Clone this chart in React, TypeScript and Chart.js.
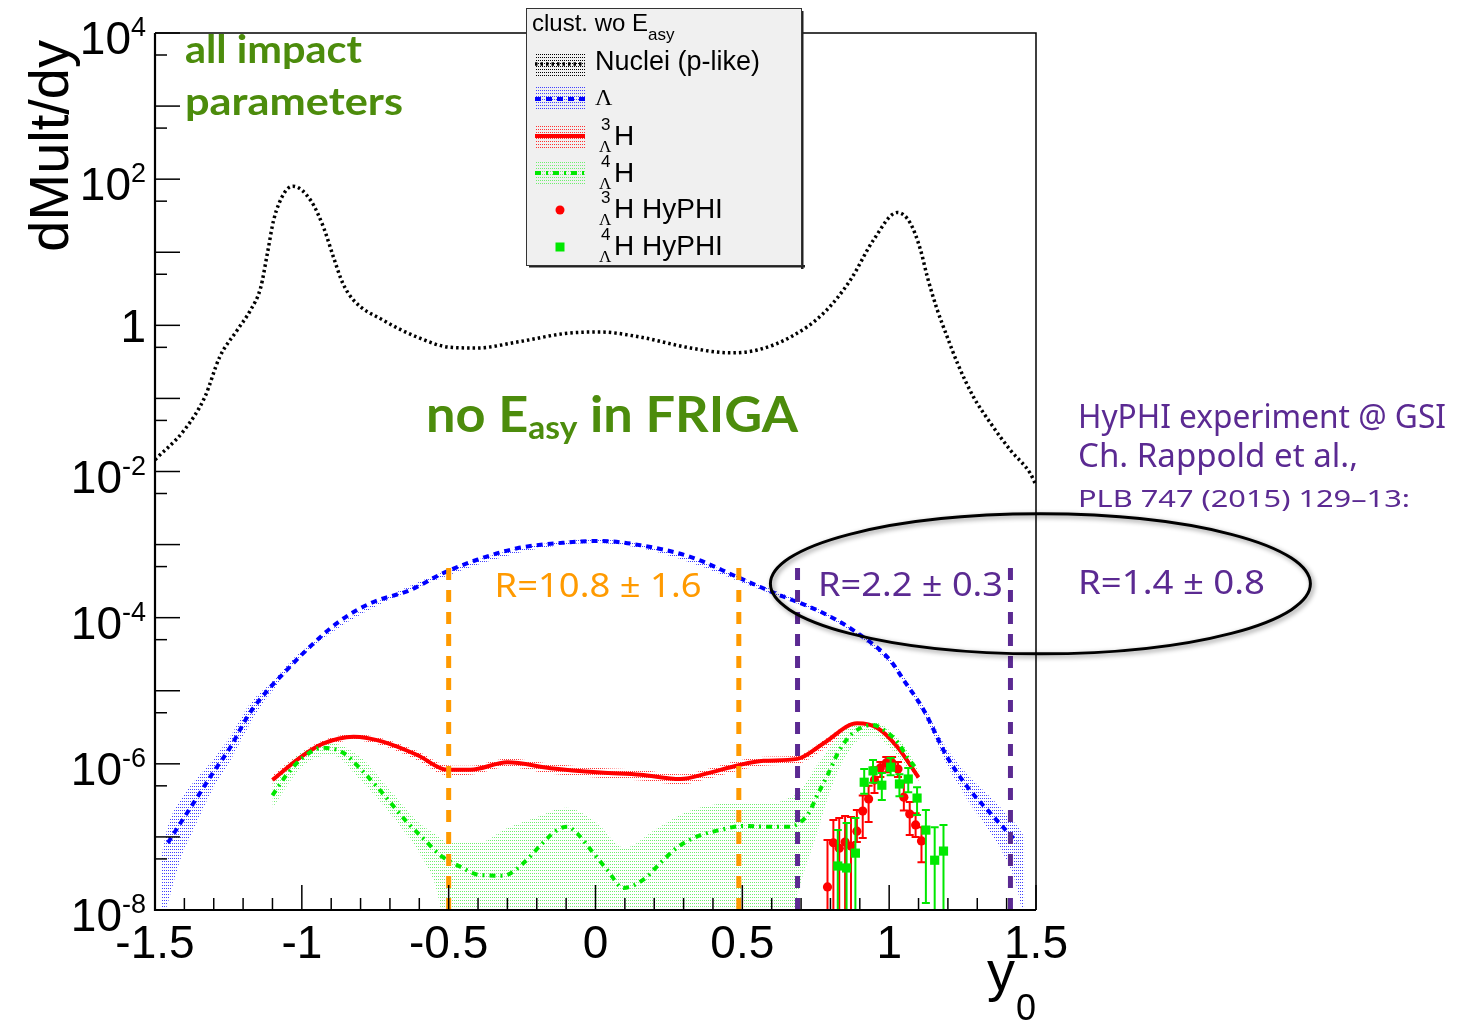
import React, { useEffect, useRef } from 'react';
import { Chart, registerables } from 'chart.js';

Chart.register(...registerables);

const W = 1458;
const H = 1023;

const RED = '#ff0000';
const GREEN = '#00e800';
const BLUE = '#0000ff';
const ORANGE = '#ff9a00';
const PURPLE = '#5b2a92';
const OLIVE = '#4c8c0c';

// ---- FRIGA, clusters without E_asy: dMult/dy versus y0 ----
const nucleiY0 = [-1.5, -1.4, -1.33, -1.28, -1.22, -1.175, -1.14, -1.117, -1.096, -1.06, -1.03, -0.97, -0.926, -0.892, -0.861, -0.824, -0.722, -0.607, -0.494, -0.403, -0.267, -0.096, 0.017, 0.153, 0.323, 0.46, 0.551, 0.664, 0.777, 0.868, 0.947, 1.028, 1.072, 1.107, 1.13, 1.164, 1.198, 1.233, 1.287, 1.345, 1.413, 1.48, 1.5];
const nucleiMult = [0.0145, 0.037, 0.105, 0.367, 0.86, 1.61, 3.3, 9.8, 27.5, 64.6, 80, 51.3, 21.9, 8.5, 3.8, 2.21, 1.17, 0.69, 0.5, 0.49, 0.59, 0.78, 0.81, 0.69, 0.49, 0.42, 0.46, 0.69, 1.47, 4.17, 14.8, 35, 25, 10.7, 4.6, 1.62, 0.69, 0.3, 0.105, 0.046, 0.0195, 0.0095, 0.0065];

const lambdaY0 = [-1.456, -1.413, -1.369, -1.304, -1.243, -1.181, -1.107, -1.083, -0.994, -0.879, -0.766, -0.63, -0.517, -0.403, -0.267, -0.096, 0.017, 0.153, 0.323, 0.483, 0.606, 0.777, 0.891, 1.004, 1.049, 1.117, 1.198, 1.267, 1.345, 1.403, 1.436];
const lambdaMult = [8.3e-8, 1.55e-7, 2.9e-7, 7.4e-7, 1.7e-6, 4.7e-6, 1.12e-5, 1.41e-5, 3.3e-5, 8.5e-5, 1.58e-4, 2.4e-4, 4.1e-4, 6.2e-4, 8.9e-4, 1.07e-3, 1.12e-3, 9.8e-4, 6.8e-4, 3.6e-4, 2.2e-4, 1.15e-4, 6.2e-5, 2.6e-5, 1.41e-5, 5.5e-6, 1.23e-6, 4.8e-7, 2.1e-7, 1.17e-7, 8.5e-8];
const lambdaBandY0 = [-1.48, -1.456, -1.413, -1.369, -1.304, -1.243, -1.181, -1.1, -1.0, -0.5, 0, 0.5, 1.0, 1.117, 1.198, 1.267, 1.345, 1.403, 1.436, 1.46];
const lambdaBandHi = [5.0e-8, 1.41e-7, 3.2e-7, 5.6e-7, 1.12e-6, 2.4e-6, 6.3e-6, 1.35e-5, 3.5e-5, 4.5e-4, 1.17e-3, 3.5e-4, 2.8e-5, 6.3e-6, 1.58e-6, 7.1e-7, 3.5e-7, 2.0e-7, 1.41e-7, 1.0e-7];
const lambdaBandLo = [6.3e-9, 1.26e-8, 5.0e-8, 1.26e-7, 4.5e-7, 1.12e-6, 3.3e-6, 1.0e-5, 3.0e-5, 3.8e-4, 1.05e-3, 3.0e-4, 2.4e-5, 4.7e-6, 9.5e-7, 3.2e-7, 1.12e-7, 4.5e-8, 2.0e-8, 6.3e-9];

const h3lY0 = [-1.1, -1.005, -0.926, -0.824, -0.722, -0.607, -0.505, -0.426, -0.3, -0.153, 0.017, 0.153, 0.289, 0.381, 0.483, 0.572, 0.688, 0.776, 0.891, 0.96, 1.028, 1.1];
const h3lMult = [6.0e-7, 1.23e-6, 1.9e-6, 2.35e-6, 2.0e-6, 1.32e-6, 8.3e-7, 8.3e-7, 1.05e-6, 8.7e-7, 7.6e-7, 7.1e-7, 6.2e-7, 7.4e-7, 9.5e-7, 1.1e-6, 1.17e-6, 1.9e-6, 3.6e-6, 3.1e-6, 1.7e-6, 6.5e-7];
const h3lBandHi = [7.0e-7, 1.4e-6, 2.1e-6, 2.55e-6, 2.2e-6, 1.5e-6, 9.6e-7, 9.4e-7, 1.18e-6, 1.0e-6, 8.8e-7, 8.3e-7, 7.2e-7, 8.5e-7, 1.1e-6, 1.25e-6, 1.3e-6, 2.1e-6, 3.8e-6, 3.3e-6, 1.9e-6, 7.4e-7];
const h3lBandLo = [5.0e-7, 1.05e-6, 1.65e-6, 2.1e-6, 1.75e-6, 1.12e-6, 7.0e-7, 7.1e-7, 9.0e-7, 7.3e-7, 6.4e-7, 5.9e-7, 5.2e-7, 6.2e-7, 8.0e-7, 9.4e-7, 1.0e-6, 1.55e-6, 3.1e-6, 2.7e-6, 1.45e-6, 5.6e-7];

const h4lY0 = [-1.1, -1.055, -0.998, -0.93, -0.858, -0.8, -0.743, -0.692, -0.641, -0.586, -0.528, -0.46, -0.392, -0.313, -0.245, -0.194, -0.136, -0.096, -0.061, -0.01, 0.041, 0.095, 0.163, 0.221, 0.279, 0.347, 0.419, 0.504, 0.579, 0.657, 0.722, 0.759, 0.793, 0.827, 0.875, 0.943, 0.998, 1.032, 1.062, 1.096];
const h4lMult = [3.7e-7, 6.8e-7, 1.2e-6, 1.66e-6, 1.41e-6, 8.5e-7, 4.8e-7, 2.75e-7, 1.58e-7, 9.5e-8, 5.6e-8, 3.9e-8, 3.0e-8, 2.95e-8, 4.4e-8, 7.2e-8, 1.2e-7, 1.38e-7, 1.1e-7, 6.2e-8, 3.5e-8, 2.0e-8, 2.6e-8, 4.4e-8, 7.2e-8, 1.02e-7, 1.23e-7, 1.41e-7, 1.38e-7, 1.38e-7, 2.0e-7, 4.0e-7, 7.4e-7, 1.45e-6, 2.6e-6, 3.4e-6, 2.6e-6, 1.9e-6, 1.23e-6, 8.3e-7];
const h4lBandY0 = [-1.1, -1.0, -0.9, -0.8, -0.7, -0.6, -0.55, -0.5, -0.4, -0.3, -0.2, -0.1, 0, 0.1, 0.2, 0.3, 0.4, 0.5, 0.6, 0.65, 0.7, 0.75, 0.8, 0.85, 0.9, 0.95, 1.0, 1.05, 1.1];
const h4lBandHi = [6.0e-7, 1.45e-6, 1.9e-6, 1.23e-6, 4.4e-7, 1.55e-7, 1.12e-7, 8.3e-8, 8.3e-8, 1.32e-7, 1.86e-7, 2.5e-7, 1.6e-7, 7.1e-8, 1.23e-7, 2.1e-7, 2.75e-7, 2.9e-7, 2.9e-7, 3.3e-7, 4.4e-7, 9.1e-7, 1.7e-6, 2.9e-6, 3.7e-6, 3.7e-6, 2.9e-6, 1.8e-6, 8.3e-7];
const h4lBandLo = [2.5e-7, 9.1e-7, 1.32e-6, 6.0e-7, 2.1e-7, 6.0e-8, 2.5e-8, 5e-9, 5e-9, 5e-9, 5e-9, 5e-9, 5e-9, 5e-9, 5e-9, 5e-9, 5e-9, 5e-9, 5e-9, 5e-9, 2.5e-8, 1.0e-7, 4.4e-7, 1.23e-6, 2.2e-6, 2.45e-6, 1.7e-6, 1.02e-6, 6.5e-7];

// ---- HyPHI measurements (points with asymmetric error bars) ----
const hyphi3Y0 = [0.79, 0.81, 0.83, 0.85, 0.87, 0.89, 0.91, 0.93, 0.95, 0.97, 0.99, 1.01, 1.03, 1.05, 1.07, 1.09, 1.11];
const hyphi3Mult = [2.07e-8, 8.3e-8, 7.0e-8, 8.5e-8, 7.5e-8, 1.2e-7, 2.26e-7, 3.3e-7, 6.0e-7, 8.8e-7, 1.03e-6, 1.03e-6, 8.5e-7, 3.5e-7, 2.06e-7, 1.46e-7, 8.8e-8];
const hyphi3Hi = [9.1e-8, 1.7e-7, 1.82e-7, 1.93e-7, 1.87e-7, 2.33e-7, 3.7e-7, 5.0e-7, 9.0e-7, 1.06e-6, 1.24e-6, 1.24e-6, 1.06e-6, 5.6e-7, 3.0e-7, 2.1e-7, 1.36e-7];
const hyphi3Lo = [1e-9, 1e-9, 1e-9, 1e-9, 1e-9, 8.5e-8, 9.7e-8, 1.6e-7, 4.0e-7, 6.6e-7, 7.7e-7, 8.2e-7, 6.6e-7, 2.3e-7, 1.06e-7, 1.0e-7, 4.5e-8];

const hyphi4Y0 = [0.825, 0.855, 0.885, 0.915, 0.945, 0.975, 1.005, 1.035, 1.065, 1.095, 1.125, 1.155, 1.185];
const hyphi4Mult = [4.0e-8, 3.76e-8, 6.0e-8, 5.6e-7, 8.0e-7, 5.1e-7, 9.0e-7, 5.3e-7, 6.2e-7, 3.4e-7, 1.24e-7, 4.8e-8, 6.4e-8];
const hyphi4Hi = [1.24e-7, 1.55e-7, 1.82e-7, 8.5e-7, 1.13e-6, 7.5e-7, 1.2e-6, 7.2e-7, 8.8e-7, 4.8e-7, 2.33e-7, 1.36e-7, 1.46e-7];
const hyphi4Lo = [1e-9, 1e-9, 1e-9, 3.9e-7, 5.5e-7, 3.2e-7, 7.0e-7, 3.6e-7, 4.1e-7, 2.0e-7, 1.25e-8, 1e-9, 1e-9];

// ---- axes ----
const xTickLabels = ['-1.5', '-1', '-0.5', '0', '0.5', '1', '1.5'];
const xTickValues = [-1.5, -1, -0.5, 0, 0.5, 1, 1.5];
const yLabelExponents = [4, 2, 0, -2, -4, -6, -8];

// ---- rapidity windows for the yield ratios ----
const windowLines = [
  { y0: -0.5, color: ORANGE },
  { y0: 0.488, color: ORANGE },
  { y0: 0.688, color: PURPLE },
  { y0: 1.413, color: PURPLE },
];
const windowTop = 4.8e-4;

const errorBars: Record<string, { x: number[]; lo: number[]; hi: number[]; color: string }> = {
  hyphi3: { x: hyphi3Y0, lo: hyphi3Lo, hi: hyphi3Hi, color: RED },
  hyphi4: { x: hyphi4Y0, lo: hyphi4Lo, hi: hyphi4Hi, color: GREEN },
};

const xy = (xs: number[], ys: number[]) => xs.map((x, i) => ({ x, y: ys[i] }));

function dotPattern(ctx: CanvasRenderingContext2D, color: string) {
  const c = document.createElement('canvas');
  c.width = 2;
  c.height = 3;
  const g = c.getContext('2d')!;
  g.fillStyle = color;
  g.fillRect(0, 0, 1, 1);
  return ctx.createPattern(c, 'repeat')!;
}

type Run = { text: string; font: string; dy?: number };

// draws a row of text runs, stretched horizontally to a given width
function drawRuns(ctx: CanvasRenderingContext2D, runs: Run[], x: number, y: number, width: number | null, color: string, align: 'left' | 'center' = 'left') {
  ctx.save();
  ctx.fillStyle = color;
  ctx.textAlign = 'left';
  ctx.textBaseline = 'alphabetic';
  const widths = runs.map((r) => {
    ctx.font = r.font;
    return ctx.measureText(r.text).width;
  });
  const total = widths.reduce((a, b) => a + b, 0);
  const s = width ? width / total : 1;
  const startX = align === 'center' ? x - (total * s) / 2 : x;
  ctx.translate(startX, y);
  ctx.scale(s, 1);
  let cx = 0;
  runs.forEach((r, i) => {
    ctx.font = r.font;
    ctx.fillText(r.text, cx, r.dy || 0);
    cx += widths[i];
  });
  ctx.restore();
}

const SANS = '"Liberation Sans", Arial, sans-serif';
const SERIF = '"Liberation Serif", "Times New Roman", serif';
const NOTO = '"Noto Sans", "Open Sans", sans-serif';
const HAND = 'Lato, "Noto Sans", sans-serif';

export default function App() {
  const ref = useRef<HTMLCanvasElement>(null);

  useEffect(() => {
    const canvas = ref.current!;
    const ctx0 = canvas.getContext('2d')!;
    const blueDots = dotPattern(ctx0, '#4040ff');
    const redDots = dotPattern(ctx0, '#ff3030');
    const greenDots = dotPattern(ctx0, '#70ee70');
    const greyDots = dotPattern(ctx0, '#000000');

    const curve = { pointRadius: 0, cubicInterpolationMode: 'monotone' as const, fill: false };
    const band = { pointRadius: 0, cubicInterpolationMode: 'monotone' as const, borderColor: 'rgba(0,0,0,0)', borderWidth: 1 };

    const rootStyle = {
      id: 'rootStyle',
      beforeDraw(chart: any) {
        const c = chart.ctx;
        c.save();
        c.fillStyle = '#ffffff';
        c.fillRect(0, 0, chart.width, chart.height);
        c.restore();
      },
      beforeDatasetDraw(chart: any, args: any) {
        const ds = chart.data.datasets[args.index];
        const eb = errorBars[ds.label];
        if (!eb) return;
        const { ctx, chartArea: a } = chart;
        const xs = chart.scales.x;
        const ys = chart.scales.y;
        ctx.save();
        ctx.beginPath();
        ctx.rect(a.left, a.top, a.right - a.left, a.bottom - a.top);
        ctx.clip();
        ctx.strokeStyle = eb.color;
        ctx.lineWidth = 2;
        ctx.setLineDash([]);
        eb.x.forEach((xv, i) => {
          const px = xs.getPixelForValue(xv);
          const pHi = ys.getPixelForValue(eb.hi[i]);
          const pLo = ys.getPixelForValue(eb.lo[i]);
          ctx.beginPath();
          ctx.moveTo(px, pLo);
          ctx.lineTo(px, pHi);
          ctx.moveTo(px - 4, pHi);
          ctx.lineTo(px + 4, pHi);
          if (pLo < a.bottom) {
            ctx.moveTo(px - 4, pLo);
            ctx.lineTo(px + 4, pLo);
          }
          ctx.stroke();
        });
        ctx.restore();
      },
      afterDraw(chart: any) {
        const { ctx, chartArea: a } = chart;
        const xs = chart.scales.x;
        const ys = chart.scales.y;
        ctx.save();

        // rapidity windows
        ctx.lineWidth = 5;
        ctx.lineCap = 'butt';
        ctx.setLineDash([12, 10]);
        windowLines.forEach((w) => {
          const px = xs.getPixelForValue(w.y0);
          ctx.strokeStyle = w.color;
          ctx.beginPath();
          ctx.moveTo(px, ys.getPixelForValue(windowTop));
          ctx.lineTo(px, a.bottom + 2);
          ctx.stroke();
        });
        ctx.setLineDash([]);

        // frame
        ctx.strokeStyle = '#000';
        ctx.lineWidth = 1.5;
        ctx.beginPath();
        ctx.moveTo(a.left, a.top);
        ctx.lineTo(a.right, a.top);
        ctx.lineTo(a.right, a.bottom);
        ctx.stroke();
        ctx.lineWidth = 2.2;
        ctx.beginPath();
        ctx.moveTo(a.left, a.top);
        ctx.lineTo(a.left, a.bottom);
        ctx.lineTo(a.right, a.bottom);
        ctx.stroke();

        // x ticks
        ctx.lineWidth = 1.5;
        for (let k = -15; k <= 15; k++) {
          const px = xs.getPixelForValue(k / 10);
          const len = k % 5 === 0 ? 25 : 12;
          ctx.beginPath();
          ctx.moveTo(px, a.bottom);
          ctx.lineTo(px, a.bottom - len);
          ctx.stroke();
        }
        // y ticks
        for (let e = -8; e <= 4; e++) {
          const py = ys.getPixelForValue(Math.pow(10, e));
          ctx.beginPath();
          ctx.moveTo(a.left, py);
          ctx.lineTo(a.left + 25, py);
          ctx.stroke();
          if (e < 4) {
            const pm = ys.getPixelForValue(5 * Math.pow(10, e));
            ctx.beginPath();
            ctx.moveTo(a.left, pm);
            ctx.lineTo(a.left + 12, pm);
            ctx.stroke();
          }
        }

        // x tick labels
        ctx.fillStyle = '#000';
        ctx.textAlign = 'center';
        ctx.textBaseline = 'alphabetic';
        ctx.font = `46px ${SANS}`;
        xTickValues.forEach((v, i) => {
          ctx.fillText(xTickLabels[i], xs.getPixelForValue(v), 958);
        });

        // y tick labels
        yLabelExponents.forEach((e) => {
          const py = ys.getPixelForValue(Math.pow(10, e));
          ctx.textAlign = 'right';
          if (e === 0) {
            ctx.font = `46px ${SANS}`;
            ctx.fillText('1', 146, py + 17);
            return;
          }
          ctx.font = `27px ${SANS}`;
          const sup = String(e);
          const sw = ctx.measureText(sup).width;
          ctx.fillText(sup, 146, py + 3);
          ctx.font = `46px ${SANS}`;
          ctx.fillText('10', 146 - sw, py + 21);
        });

        // axis titles
        ctx.save();
        ctx.translate(68, 40);
        ctx.rotate(-Math.PI / 2);
        ctx.textAlign = 'right';
        ctx.font = `56px ${SANS}`;
        ctx.fillText('dMult/dy', 0, 0);
        ctx.restore();
        ctx.textAlign = 'left';
        ctx.font = `56px ${SANS}`;
        ctx.fillText('y', 987, 990);
        ctx.font = `36px ${SANS}`;
        ctx.fillText('0', 1016, 1020);

        // ellipse around the HyPHI window
        ctx.save();
        const ecx = xs.getPixelForValue(1.515);
        const ecy = ys.getPixelForValue(2.9e-4);
        ctx.shadowColor = 'rgba(0,0,0,0.45)';
        ctx.shadowBlur = 5;
        ctx.shadowOffsetX = 2;
        ctx.shadowOffsetY = 2;
        ctx.strokeStyle = '#000';
        ctx.lineWidth = 3;
        ctx.beginPath();
        ctx.ellipse(ecx, ecy, 270, 70, 0, 0, Math.PI * 2);
        ctx.stroke();
        ctx.restore();

        // ratio annotations
        drawRuns(ctx, [{ text: 'R=10.8 ± 1.6', font: `33px ${NOTO}` }], 598, 597, 207, ORANGE, 'center');
        drawRuns(ctx, [{ text: 'R=2.2 ± 0.3', font: `33px ${NOTO}` }], 818, 596, 185, PURPLE);
        drawRuns(ctx, [{ text: 'HyPHI experiment @ GSI', font: `33px ${NOTO}` }], 1078, 428, 368, PURPLE);
        drawRuns(ctx, [{ text: 'Ch. Rappold et al.,', font: `33px ${NOTO}` }], 1078, 467, 280, PURPLE);
        drawRuns(ctx, [{ text: 'PLB 747 (2015) 129–13:', font: `24px ${NOTO}` }], 1078, 507, 332, PURPLE);
        drawRuns(ctx, [{ text: 'R=1.4 ± 0.8', font: `33px ${NOTO}` }], 1078, 594, 187, PURPLE);

        // model labels
        drawRuns(ctx, [{ text: 'all impact', font: `bold 39px ${HAND}` }], 185, 63, 177, OLIVE);
        drawRuns(ctx, [{ text: 'parameters', font: `bold 39px ${HAND}` }], 185, 115, 218, OLIVE);
        drawRuns(
          ctx,
          [
            { text: 'no ', font: `bold 50px ${HAND}` },
            { text: 'E', font: `bold 50px ${HAND}` },
            { text: 'asy', font: `bold 32px ${HAND}`, dy: 7 },
            { text: ' in FRIGA', font: `bold 50px ${HAND}` },
          ],
          426,
          432,
          372,
          OLIVE,
        );

        // legend box
        const L = { x: 526, y: 8, w: 276, h: 258 };
        ctx.fillStyle = '#222';
        ctx.fillRect(L.x + 3, L.y + L.h - 1, L.w, 2.5);
        ctx.fillRect(L.x + L.w - 1, L.y + 3, 2.5, L.h);
        ctx.fillStyle = '#f0f0f0';
        ctx.fillRect(L.x, L.y, L.w, L.h);
        ctx.strokeStyle = '#333';
        ctx.lineWidth = 1;
        ctx.strokeRect(L.x + 0.5, L.y + 0.5, L.w - 1, L.h - 1);

        ctx.fillStyle = '#000';
        ctx.textAlign = 'left';
        ctx.font = `24px ${SANS}`;
        ctx.fillText('clust. wo E', 532, 31);
        const tw = ctx.measureText('clust. wo E').width;
        ctx.font = `17px ${SANS}`;
        ctx.fillText('asy', 532 + tw, 40);

        const LX0 = 535;
        const LX1 = 585;
        const sample = (y: number, pat: CanvasPattern, color: string, width: number, dash: number[]) => {
          ctx.fillStyle = pat;
          ctx.fillRect(LX0, y - 12, LX1 - LX0, 24);
          ctx.strokeStyle = color;
          ctx.lineWidth = width;
          ctx.setLineDash(dash);
          ctx.beginPath();
          ctx.moveTo(LX0, y);
          ctx.lineTo(LX1, y);
          ctx.stroke();
          ctx.setLineDash([]);
        };
        sample(64, greyDots, '#000', 3.5, [2.5, 3]);
        sample(99, blueDots, BLUE, 4, [6, 5]);
        sample(136, redDots, RED, 4, []);
        sample(173, greenDots, GREEN, 4, [6, 5, 2, 5]);

        ctx.fillStyle = RED;
        ctx.beginPath();
        ctx.arc(560, 210, 4.5, 0, Math.PI * 2);
        ctx.fill();
        ctx.fillStyle = GREEN;
        ctx.fillRect(555.5, 242.5, 9, 9);

        ctx.fillStyle = '#000';
        ctx.font = `27px ${SANS}`;
        ctx.fillText('Nuclei (p-like)', 595, 70);
        ctx.font = `24px ${SERIF}`;
        ctx.fillText('Λ', 595, 105);

        const hyper = (mass: string, yBase: number, rest: string) => {
          ctx.font = `17px ${SANS}`;
          ctx.fillText(mass, 601, yBase - 15);
          ctx.font = `17px ${SERIF}`;
          ctx.fillText('Λ', 599, yBase + 7);
          ctx.font = `28px ${SANS}`;
          ctx.fillText(rest, 614, yBase);
        };
        hyper('3', 145, 'H');
        hyper('4', 182, 'H');
        hyper('3', 218, 'H HyPHI');
        hyper('4', 255, 'H HyPHI');

        ctx.restore();
      },
    };

    const chart = new Chart(canvas, {
      type: 'line',
      data: {
        datasets: [
          { label: 'hyphi4', data: xy(hyphi4Y0, hyphi4Mult), showLine: false, pointStyle: 'rect', pointRadius: 6.5, pointBackgroundColor: GREEN, pointBorderWidth: 0, borderColor: GREEN, order: 0 },
          { label: 'hyphi3', data: xy(hyphi3Y0, hyphi3Mult), showLine: false, pointStyle: 'circle', pointRadius: 4.6, pointBackgroundColor: RED, pointBorderWidth: 0, borderColor: RED, order: 1 },
          { label: 'h4l', data: xy(h4lY0, h4lMult), borderColor: GREEN, borderWidth: 4, borderDash: [6, 5, 2, 5], ...curve, order: 2 },
          { label: 'h3l', data: xy(h3lY0, h3lMult), borderColor: RED, borderWidth: 4, ...curve, order: 3 },
          { label: 'lambda', data: xy(lambdaY0, lambdaMult), borderColor: BLUE, borderWidth: 4, borderDash: [6, 5], ...curve, order: 4 },
          { label: 'nuclei', data: xy(nucleiY0, nucleiMult), borderColor: '#000', borderWidth: 3.5, borderDash: [2.5, 3], ...curve, order: 5 },
          { label: 'h4lBandHi', data: xy(h4lBandY0, h4lBandHi), ...band, fill: '+1', backgroundColor: greenDots, order: 6 },
          { label: 'h4lBandLo', data: xy(h4lBandY0, h4lBandLo), ...band, fill: false, order: 7 },
          { label: 'h3lBandHi', data: xy(h3lY0, h3lBandHi), ...band, fill: '+1', backgroundColor: redDots, order: 8 },
          { label: 'h3lBandLo', data: xy(h3lY0, h3lBandLo), ...band, fill: false, order: 9 },
          { label: 'lambdaBandHi', data: xy(lambdaBandY0, lambdaBandHi), ...band, fill: '+1', backgroundColor: blueDots, order: 10 },
          { label: 'lambdaBandLo', data: xy(lambdaBandY0, lambdaBandLo), ...band, fill: false, order: 11 },
        ] as any,
      },
      options: {
        responsive: false,
        animation: false,
        devicePixelRatio: 1,
        layout: { padding: { left: 155, right: W - 1036, top: 33, bottom: H - 910 } },
        scales: {
          x: { type: 'linear', min: -1.5, max: 1.5, display: false },
          y: { type: 'logarithmic', min: 1e-8, max: 1e4, display: false },
        },
        plugins: { legend: { display: false }, tooltip: { enabled: false } },
        events: [],
      },
      plugins: [rootStyle],
    });

    return () => chart.destroy();
  }, []);

  return (
    <div style={{ position: 'absolute', left: 0, top: 0, width: W, height: H, background: '#fff' }}>
      <canvas ref={ref} width={W} height={H} style={{ display: 'block', width: W, height: H }} />
    </div>
  );
}
